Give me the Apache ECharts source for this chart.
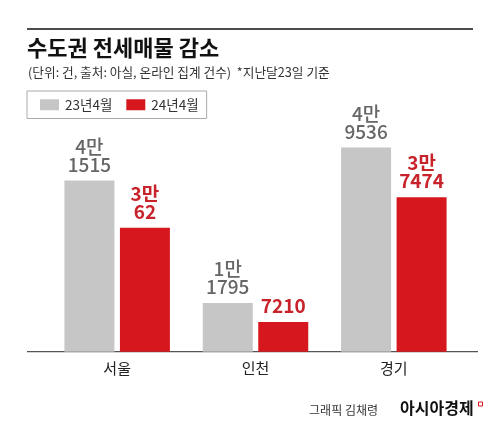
<!DOCTYPE html>
<html>
<head>
<meta charset="utf-8">
<script src="https://cdn.jsdelivr.net/npm/echarts@6/dist/echarts.min.js"></script>
<style>
html,body{margin:0;padding:0;background:#fff;}
#c{width:500px;height:444px;}
</style>
</head>
<body>
<div id="c"></div>
<script>
const categories = ['서울', '인천', '경기'];
const seriesNames = ['23년4월', '24년4월'];
const values2023 = [41515, 11795, 49536];
const values2024 = [30062, 7210, 37474];

const FONT = '"Noto Sans CJK KR", "Noto Sans", sans-serif';
function fmt(p) {
  const v = p.value;
  const man = Math.floor(v / 10000);
  const rest = v % 10000;
  return man > 0 ? man + '만\n' + rest : String(rest);
}

const chart = echarts.init(document.getElementById('c'), null, {renderer: 'canvas'});
chart.setOption({
  backgroundColor: '#fff',
  animation: false,
  textStyle: {fontFamily: FONT},
  legend: {
    left: 27, top: 91,
    data: seriesNames,
    icon: 'rect',
    itemWidth: 19, itemHeight: 11,
    itemGap: 14,
    borderColor: '#aaaaaa', borderWidth: 1,
    padding: [7, 8, 7, 13],
    textStyle: {fontFamily: FONT, fontSize: 13.5, color: '#333', padding: [0, 0, 0, 1]}
  },
  grid: {left: 48, right: 37, top: 104.3, bottom: 92.3},
  xAxis: {
    type: 'category',
    data: categories,
    axisLine: {show: false},
    axisTick: {show: false},
    axisLabel: {fontFamily: FONT, fontSize: 15, color: '#222', margin: 9}
  },
  yAxis: {type: 'value', min: 0, max: 60000, show: false, splitLine: {show: false}},
  series: [
    {
      name: seriesNames[0], type: 'bar', data: values2023,
      barWidth: 50, barGap: '11%',
      itemStyle: {color: '#c6c6c6'},
      label: {show: true, position: 'top', distance: 7, formatter: fmt,
        fontFamily: FONT, fontSize: 19, lineHeight: 18, color: '#666', fontWeight: 500}
    },
    {
      name: seriesNames[1], type: 'bar', data: values2024,
      barWidth: 50,
      itemStyle: {color: '#d6171e'},
      label: {show: true, position: 'top', distance: 7, formatter: fmt,
        fontFamily: FONT, fontSize: 19, lineHeight: 18, color: '#c8232a', fontWeight: 'bold'}
    }
  ],
  graphic: [
    {type: 'line', shape: {x1: 27, y1: 29, x2: 473, y2: 29}, style: {stroke: '#111', lineWidth: 1.6}},
    {type: 'text', left: 27, top: 37, style: {text: '수도권 전세매물 감소', font: 'bold 22px ' + FONT, fill: '#111'}},
    {type: 'text', left: 28, top: 66, style: {text: '(단위: 건, 출처: 아실, 온라인 집계 건수)  *지난달23일 기준', font: '12.7px ' + FONT, fill: '#333'}},
    {type: 'line', shape: {x1: 27, y1: 351.7, x2: 478, y2: 351.7}, style: {stroke: '#555', lineWidth: 1.3}},
    {type: 'text', right: 122, top: 404, style: {text: '그래픽 김채령', font: '12px ' + FONT, fill: '#333'}},
    {type: 'text', left: 400, top: 400, style: {text: '아시아경제', font: 'bold 16px ' + FONT, fill: '#111'}},
    {type: 'rect', shape: {x: 478.5, y: 402, width: 4, height: 4}, style: {fill: 'none', stroke: '#d6171e', lineWidth: 1}}
  ]
});
</script>
</body>
</html>
